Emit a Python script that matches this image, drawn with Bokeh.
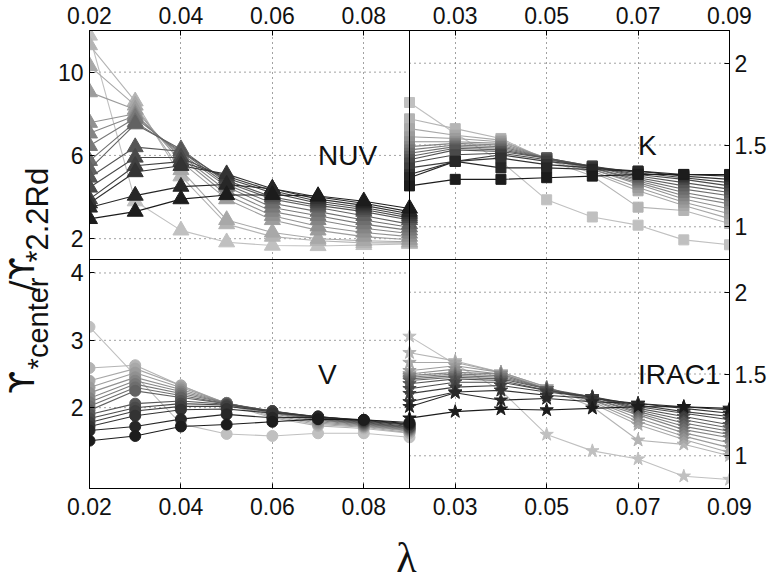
import numpy as np
from bokeh.plotting import figure
from bokeh.models import Range1d, LinearAxis, FixedTicker, Span, Label, Grid
from bokeh.layouts import row, column
from bokeh.embed import file_html
from bokeh.resources import INLINE

# ---------------- data ----------------
lam = [0.02, 0.03, 0.04, 0.05, 0.06, 0.07, 0.08, 0.09]

# series ordered darkest -> lightest
nuv = [
    [2.95, 3.30, 3.90, 4.10, 4.10, 4.05, 3.80, 3.45],
    [3.50, 4.07, 4.50, 4.60, 4.40, 4.00, 3.70, 3.30],
    [3.70, 5.20, 5.50, 5.10, 4.40, 3.90, 3.60, 3.20],
    [3.90, 5.50, 5.70, 5.00, 4.30, 3.80, 3.50, 3.10],
    [4.46, 5.90, 5.90, 4.90, 4.20, 3.70, 3.40, 3.00],
    [4.94, 6.40, 6.20, 4.80, 4.00, 3.60, 3.30, 2.90],
    [5.34, 7.50, 6.30, 4.70, 3.90, 3.50, 3.10, 2.70],
    [5.74, 7.60, 6.20, 4.60, 3.70, 3.30, 2.90, 2.55],
    [6.46, 7.80, 6.10, 4.50, 3.50, 3.10, 2.70, 2.40],
    [7.06, 7.90, 6.00, 4.30, 3.30, 2.90, 2.50, 2.25],
    [7.57, 8.00, 5.90, 4.10, 3.10, 2.60, 2.30, 2.10],
    [9.04, 8.20, 5.70, 3.90, 2.90, 2.40, 2.10, 1.95],
    [10.30, 8.40, 5.30, 2.90, 2.30, 2.00, 1.90, 1.85],
    [11.30, 8.60, 5.00, 2.70, 2.10, 1.90, 1.80, 1.80],
    [11.76, 3.80, 2.40, 1.83, 1.67, 1.65, 1.70, 1.75],
]
k_band = [
    [1.25, 1.29, 1.29, 1.30, 1.31, 1.32, 1.32, 1.32],
    [1.30, 1.40, 1.36, 1.36, 1.35, 1.34, 1.32, 1.31],
    [1.32, 1.40, 1.42, 1.38, 1.36, 1.34, 1.31, 1.29],
    [1.36, 1.40, 1.44, 1.40, 1.37, 1.33, 1.30, 1.27],
    [1.39, 1.44, 1.45, 1.41, 1.37, 1.32, 1.29, 1.25],
    [1.41, 1.47, 1.46, 1.42, 1.37, 1.31, 1.27, 1.23],
    [1.43, 1.48, 1.47, 1.42, 1.37, 1.30, 1.25, 1.21],
    [1.45, 1.49, 1.48, 1.42, 1.36, 1.29, 1.23, 1.19],
    [1.47, 1.50, 1.49, 1.42, 1.36, 1.28, 1.21, 1.16],
    [1.49, 1.51, 1.50, 1.42, 1.35, 1.27, 1.19, 1.14],
    [1.52, 1.52, 1.51, 1.42, 1.35, 1.26, 1.17, 1.11],
    [1.55, 1.54, 1.52, 1.42, 1.34, 1.24, 1.15, 1.08],
    [1.60, 1.56, 1.53, 1.41, 1.33, 1.22, 1.13, 1.05],
    [1.66, 1.60, 1.54, 1.41, 1.31, 1.12, 1.10, 1.02],
    [1.76, 1.57, 1.40, 1.165, 1.06, 1.01, 0.92, 0.89],
]
v_band = [
    [1.51, 1.58, 1.72, 1.75, 1.79, 1.83, 1.82, 1.78],
    [1.66, 1.72, 1.83, 1.90, 1.85, 1.86, 1.82, 1.76],
    [1.72, 1.88, 1.97, 1.98, 1.92, 1.87, 1.81, 1.75],
    [1.78, 1.95, 2.02, 2.02, 1.94, 1.87, 1.80, 1.74],
    [1.84, 2.00, 2.06, 2.04, 1.95, 1.86, 1.79, 1.72],
    [1.90, 2.06, 2.10, 2.05, 1.95, 1.85, 1.78, 1.71],
    [1.96, 2.25, 2.15, 2.06, 1.95, 1.84, 1.77, 1.70],
    [2.02, 2.30, 2.18, 2.06, 1.94, 1.83, 1.76, 1.69],
    [2.08, 2.35, 2.21, 2.07, 1.93, 1.82, 1.75, 1.68],
    [2.14, 2.40, 2.24, 2.07, 1.92, 1.81, 1.74, 1.67],
    [2.22, 2.45, 2.27, 2.07, 1.91, 1.79, 1.73, 1.66],
    [2.30, 2.52, 2.30, 2.07, 1.89, 1.77, 1.72, 1.65],
    [2.40, 2.58, 2.33, 2.06, 1.87, 1.75, 1.71, 1.63],
    [2.59, 2.63, 2.33, 2.05, 1.85, 1.73, 1.69, 1.62],
    [3.20, 2.48, 1.76, 1.61, 1.58, 1.62, 1.62, 1.56],
]
irac1 = [
    [1.23, 1.27, 1.285, 1.28, 1.29, 1.30, 1.30, 1.29],
    [1.30, 1.385, 1.34, 1.35, 1.33, 1.32, 1.30, 1.28],
    [1.33, 1.39, 1.40, 1.37, 1.35, 1.32, 1.29, 1.26],
    [1.38, 1.42, 1.43, 1.39, 1.36, 1.31, 1.27, 1.24],
    [1.41, 1.45, 1.45, 1.40, 1.36, 1.30, 1.26, 1.22],
    [1.44, 1.47, 1.46, 1.40, 1.36, 1.29, 1.24, 1.19],
    [1.46, 1.48, 1.47, 1.41, 1.36, 1.28, 1.22, 1.17],
    [1.47, 1.49, 1.48, 1.41, 1.35, 1.27, 1.20, 1.15],
    [1.48, 1.50, 1.49, 1.41, 1.35, 1.26, 1.18, 1.13],
    [1.49, 1.51, 1.50, 1.41, 1.34, 1.25, 1.16, 1.11],
    [1.50, 1.53, 1.50, 1.41, 1.34, 1.23, 1.14, 1.08],
    [1.52, 1.55, 1.51, 1.42, 1.33, 1.21, 1.12, 1.05],
    [1.57, 1.57, 1.51, 1.42, 1.32, 1.19, 1.10, 1.02],
    [1.63, 1.58, 1.51, 1.41, 1.30, 1.095, 1.07, 1.00],
    [1.73, 1.56, 1.40, 1.13, 1.03, 0.98, 0.875, 0.855],
]

x_ticks_left = [0.02, 0.04, 0.06, 0.08]
x_ticks_right = [0.03, 0.05, 0.07, 0.09]
y_ticks_nuv = [2, 6, 10]
y_ticks_v = [2, 3, 4]
y_ticks_k = [1, 1.5, 2]
y_ticks_irac = [1, 1.5, 2]
band_names = ["NUV", "K", "V", "IRAC1"]
x_title = "\u03bb"
y_title_parts = ["\u03d2", "*center", "/\u03d2", "*2.2Rd"]

x_lim = (0.02, 0.09)
y_lim_nuv = (1, 12)
y_lim_k = (0.8, 2.2)
y_lim_v = (0.8, 4.2)
y_lim_irac = (0.8, 2.2)

FONT = "Liberation Sans"
INK = "#111111"

# ---------------- main panel figure ----------------
MAIN_W, MAIN_H = 718, 523
p = figure(width=MAIN_W, height=MAIN_H, output_backend="svg", toolbar_location=None,
           x_range=Range1d(0, 2), y_range=Range1d(0, 2),
           x_axis_location=None, y_axis_location=None,
           min_border_left=33, min_border_right=43, min_border_top=30, min_border_bottom=35,
           background_fill_color="white", border_fill_color="white")
p.grid.visible = False
p.outline_line_color = "black"
p.outline_line_width = 1

xw = x_lim[1] - x_lim[0]
p.extra_x_ranges = {
    "xl": Range1d(x_lim[0], x_lim[0] + 2 * xw),
    "xr": Range1d(x_lim[1] - 2 * xw, x_lim[1]),
}
def top_range(lim):
    return Range1d(lim[0] - (lim[1] - lim[0]), lim[1])
def bot_range(lim):
    return Range1d(lim[0], lim[1] + (lim[1] - lim[0]))
p.extra_y_ranges = {
    "ytl": top_range(y_lim_nuv),
    "ytr": top_range(y_lim_k),
    "ybl": bot_range(y_lim_v),
    "ybr": bot_range(y_lim_irac),
}

def xpos(v, right):
    return round((1.0 if right else 0.0) + (v - x_lim[0]) / xw, 9)
def ypos(v, lim, top):
    return round((1.0 if top else 0.0) + (v - lim[0]) / (lim[1] - lim[0]), 9)

xt = [xpos(v, False) for v in x_ticks_left] + [xpos(v, True) for v in x_ticks_right]
xl = ["%g" % v for v in x_ticks_left] + ["%g" % v for v in x_ticks_right]
x_over = dict(zip(xt, xl))

yl_t = [ypos(v, y_lim_v, False) for v in y_ticks_v] + [ypos(v, y_lim_nuv, True) for v in y_ticks_nuv]
yl_l = ["%g" % v for v in y_ticks_v] + ["%g" % v for v in y_ticks_nuv]
yr_t = [ypos(v, y_lim_irac, False) for v in y_ticks_irac] + [ypos(v, y_lim_k, True) for v in y_ticks_k]
yr_l = ["%g" % v for v in y_ticks_irac] + ["%g" % v for v in y_ticks_k]

def style_axis(ax, standoff):
    ax.major_tick_in = 5
    ax.major_tick_out = 0
    ax.minor_tick_line_color = None
    ax.axis_line_color = "black"
    ax.major_tick_line_color = "black"
    ax.major_label_text_font = FONT
    ax.major_label_text_font_size = "23px"
    ax.major_label_text_color = INK
    ax.major_label_standoff = standoff

ax_top = LinearAxis(ticker=FixedTicker(ticks=xt), major_label_overrides=x_over)
style_axis(ax_top, 7)
p.add_layout(ax_top, "above")
ax_bot = LinearAxis(ticker=FixedTicker(ticks=xt), major_label_overrides=x_over)
style_axis(ax_bot, 9)
p.add_layout(ax_bot, "below")
ax_left = LinearAxis(ticker=FixedTicker(ticks=yl_t), major_label_overrides=dict(zip(yl_t, yl_l)))
style_axis(ax_left, 6)
p.add_layout(ax_left, "left")
ax_right = LinearAxis(ticker=FixedTicker(ticks=yr_t), major_label_overrides=dict(zip(yr_t, yr_l)))
style_axis(ax_right, 5)
p.add_layout(ax_right, "right")

vg = [t for t in xt if 0 < t < 2 and abs(t - 1) > 1e-6]
p.add_layout(Grid(dimension=0, ticker=FixedTicker(ticks=vg),
                  grid_line_color="#444444", grid_line_dash="1 4", grid_line_width=1))

grays = ["#%02x%02x%02x" % (g, g, g) for g in np.linspace(28, 192, len(nuv)).astype(int)]

panels = [
    (nuv, "triangle", 16, "xl", "ytl", y_ticks_nuv, band_names[0], 6.0),
    (k_band, "square", 10, "xr", "ytr", y_ticks_k, band_names[1], 1.5),
    (v_band, "circle", 11, "xl", "ybl", y_ticks_v, band_names[2], 2.5),
    (irac1, "star", 14, "xr", "ybr", y_ticks_irac, band_names[3], 1.5),
]

for data, marker, size, xn, yn, yticks, name, ly in panels:
    p.segment(x0=[x_lim[0]] * len(yticks), x1=[x_lim[1]] * len(yticks), y0=yticks, y1=yticks,
              x_range_name=xn, y_range_name=yn, line_color="#444444", line_dash="1 4", line_width=1)
    for i in range(len(data) - 1, -1, -1):
        c = grays[i]
        p.line(lam, data[i], x_range_name=xn, y_range_name=yn, line_color=c, line_width=1.1)
        p.scatter(lam, data[i], marker=marker, size=size, x_range_name=xn, y_range_name=yn,
                  fill_color=c, line_color=c)
    p.add_layout(Label(x=0.07, y=ly, x_range_name=xn, y_range_name=yn, text=name,
                       text_font=FONT, text_font_size="28px", text_baseline="middle",
                       text_align="left", text_color=INK))

p.add_layout(Span(location=1, dimension="height", line_color="black", line_width=1))
p.add_layout(Span(location=1, dimension="width", line_color="black", line_width=1))

# ---------------- y title strip ----------------
YW = 54
fy = figure(width=YW, height=MAIN_H, output_backend="svg", toolbar_location=None,
            x_range=Range1d(0, YW), y_range=Range1d(0, MAIN_H),
            x_axis_location=None, y_axis_location=None,
            min_border_left=0, min_border_right=0, min_border_top=0, min_border_bottom=0,
            background_fill_color="white", border_fill_color="white")
fy.grid.visible = False
fy.outline_line_color = None
GR = "DejaVu Sans"
for txt, sx, sy, fs, fnt in [(y_title_parts[0], 22, 108, "33px", GR),
                             (y_title_parts[1], 37.5, 136, "29px", FONT),
                             (y_title_parts[2], 22, 225, "33px", GR),
                             (y_title_parts[3], 36.5, 258, "31px", FONT)]:
    fy.add_layout(Label(x=sx, y=sy, text=txt, angle=np.pi / 2,
                        text_font=fnt, text_font_size=fs, text_align="left",
                        text_baseline="middle", text_color=INK))

# ---------------- x title strip ----------------
LH = 580 - MAIN_H
fl = figure(width=772, height=LH, output_backend="svg", toolbar_location=None,
            x_range=Range1d(0, 772), y_range=Range1d(0, LH),
            x_axis_location=None, y_axis_location=None,
            min_border_left=0, min_border_right=0, min_border_top=0, min_border_bottom=0,
            background_fill_color="white", border_fill_color="white")
fl.grid.visible = False
fl.outline_line_color = None
fl.add_layout(Label(x=406, y=23, text=x_title, text_font="Liberation Serif", text_font_size="42px",
                    text_align="center", text_baseline="middle", text_color=INK))

layout = column(row(fy, p, spacing=0), fl, spacing=0)
open("out.html", "w").write(file_html(layout, INLINE))
